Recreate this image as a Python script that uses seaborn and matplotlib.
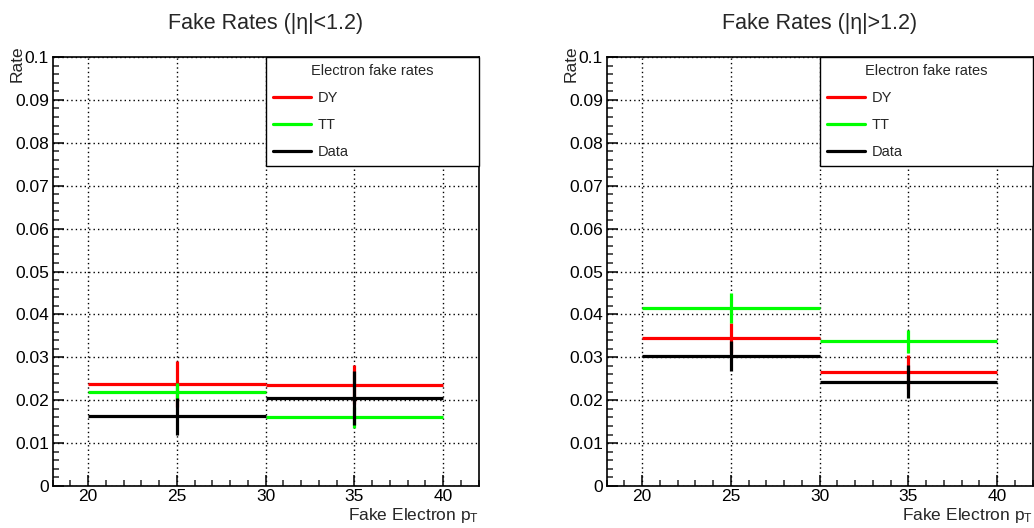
import numpy as np
import pandas as pd
import matplotlib
matplotlib.use("Agg")
import matplotlib.pyplot as plt
from matplotlib.lines import Line2D
from matplotlib.ticker import MultipleLocator, FixedLocator, FuncFormatter
import seaborn as sns

# ---- binned fake rates ----
bin_low = [20, 30]
bin_high = [30, 40]

barrel_dy = [0.0238, 0.0236]
barrel_dy_err = [0.0053, 0.0045]
barrel_tt = [0.0219, 0.0160]
barrel_tt_err = [0.0020, 0.0025]
barrel_data = [0.0163, 0.0206]
barrel_data_err = [0.0043, 0.0063]

endcap_dy = [0.0346, 0.0265]
endcap_dy_err = [0.0035, 0.0040]
endcap_tt = [0.0416, 0.0337]
endcap_tt_err = [0.0035, 0.0027]
endcap_data = [0.0304, 0.0243]
endcap_data_err = [0.0035, 0.0039]

series_names = ["DY", "TT", "Data"]
series_colors = {"DY": "#ff0000", "TT": "#00ff00", "Data": "#000000"}
panel_titles = ["Fake Rates (|\u03b7|<1.2)", "Fake Rates (|\u03b7|>1.2)"]
legend_title = "Electron fake rates"
x_label = r"Fake Electron p$_\mathrm{T}$"
y_label = "Rate"
x_ticks = [20, 25, 30, 35, 40]
y_ticks = [0, 0.01, 0.02, 0.03, 0.04, 0.05, 0.06, 0.07, 0.08, 0.09, 0.1]


def make_frame(dy, dy_err, tt, tt_err, data, data_err):
    rows = []
    for name, vals, errs in (("DY", dy, dy_err), ("TT", tt, tt_err), ("Data", data, data_err)):
        for lo, hi, v, e in zip(bin_low, bin_high, vals, errs):
            rows.append({"series": name, "lo": lo, "hi": hi, "rate": v, "err": e})
    df = pd.DataFrame(rows)
    df["center"] = 0.5 * (df["lo"] + df["hi"])
    df["half"] = 0.5 * (df["hi"] - df["lo"])
    return df


frames = [
    make_frame(barrel_dy, barrel_dy_err, barrel_tt, barrel_tt_err, barrel_data, barrel_data_err),
    make_frame(endcap_dy, endcap_dy_err, endcap_tt, endcap_tt_err, endcap_data, endcap_data_err),
]

sns.set_theme(style="ticks")
plt.rcParams["font.family"] = ["Liberation Sans", "DejaVu Sans"]
plt.rcParams["mathtext.fontset"] = "custom"
plt.rcParams["mathtext.rm"] = "Liberation Sans"
plt.rcParams["mathtext.it"] = "Liberation Sans:italic"

W, H = 1034, 528
fig = plt.figure(figsize=(W / 100, H / 100), dpi=100)
fig.patch.set_facecolor("white")

ax_w, ax_h = 426, 429
ax_bottom = 42
lefts = [52.5, 606.5]

for left, df, title in zip(lefts, frames, panel_titles):
    ax = fig.add_axes([left / W, ax_bottom / H, ax_w / W, ax_h / H])
    ax.set_facecolor("white")
    ax.set_xlim(18, 42)
    ax.set_ylim(0, 0.1)

    # dotted grid at major ticks
    ax.xaxis.set_major_locator(FixedLocator(x_ticks))
    ax.yaxis.set_major_locator(FixedLocator(y_ticks))
    ax.xaxis.set_minor_locator(MultipleLocator(1))
    ax.yaxis.set_minor_locator(MultipleLocator(0.002))
    ax.yaxis.set_major_formatter(FuncFormatter(lambda v, p: f"{v:g}"))
    ax.xaxis.set_major_formatter(FuncFormatter(lambda v, p: f"{v:g}"))
    ax.grid(True, which="major", color="black", linestyle=(0, (1, 2.2)), linewidth=1.0)
    ax.set_axisbelow(True)

    for name in series_names:
        sub = df[df["series"] == name]
        ax.errorbar(sub["center"], sub["rate"], xerr=sub["half"], yerr=sub["err"],
                    fmt="none", ecolor=series_colors[name], elinewidth=2.3,
                    capsize=0, zorder=3)

    for sp in ax.spines.values():
        sp.set_linewidth(1.2)
        sp.set_color("black")
    ax.tick_params(axis="both", which="major", direction="in", length=8, width=1.1,
                   labelsize=12.5, colors="black", top=False, right=False)
    ax.tick_params(axis="both", which="minor", direction="in", length=4, width=1.1,
                   top=False, right=False)
    ax.tick_params(axis="y", which="major", pad=2.5)
    ax.tick_params(axis="x", which="major", pad=2)

    ax.set_ylabel(y_label, loc="top", fontsize=12.5)
    ax.yaxis.set_label_coords(-0.066, 1.026)
    ax.set_xlabel(x_label, loc="right", fontsize=12.5)
    ax.xaxis.set_label_coords(1.0, -0.046)

    ax.text(0.5, 1 + (57 - 24) / ax_h, title, transform=ax.transAxes,
            ha="center", va="center", fontsize=15.5)

    handles = [Line2D([0], [0], color=series_colors[n], lw=2.3) for n in series_names]
    leg = ax.legend(handles, series_names, title=legend_title, loc="upper left",
                    bbox_to_anchor=(0.5, 0.748, 0.5, 0.252), mode="expand",
                    borderaxespad=0, frameon=True, fancybox=False, framealpha=1,
                    edgecolor="black", fontsize=10.5, title_fontsize=10.5,
                    handlelength=2.6, handletextpad=0.45, labelspacing=0.88,
                    borderpad=0.5)
    leg.get_frame().set_linewidth(1.0)
    leg.set_zorder(5)

fig.savefig("out.png", dpi=100, facecolor="white")
